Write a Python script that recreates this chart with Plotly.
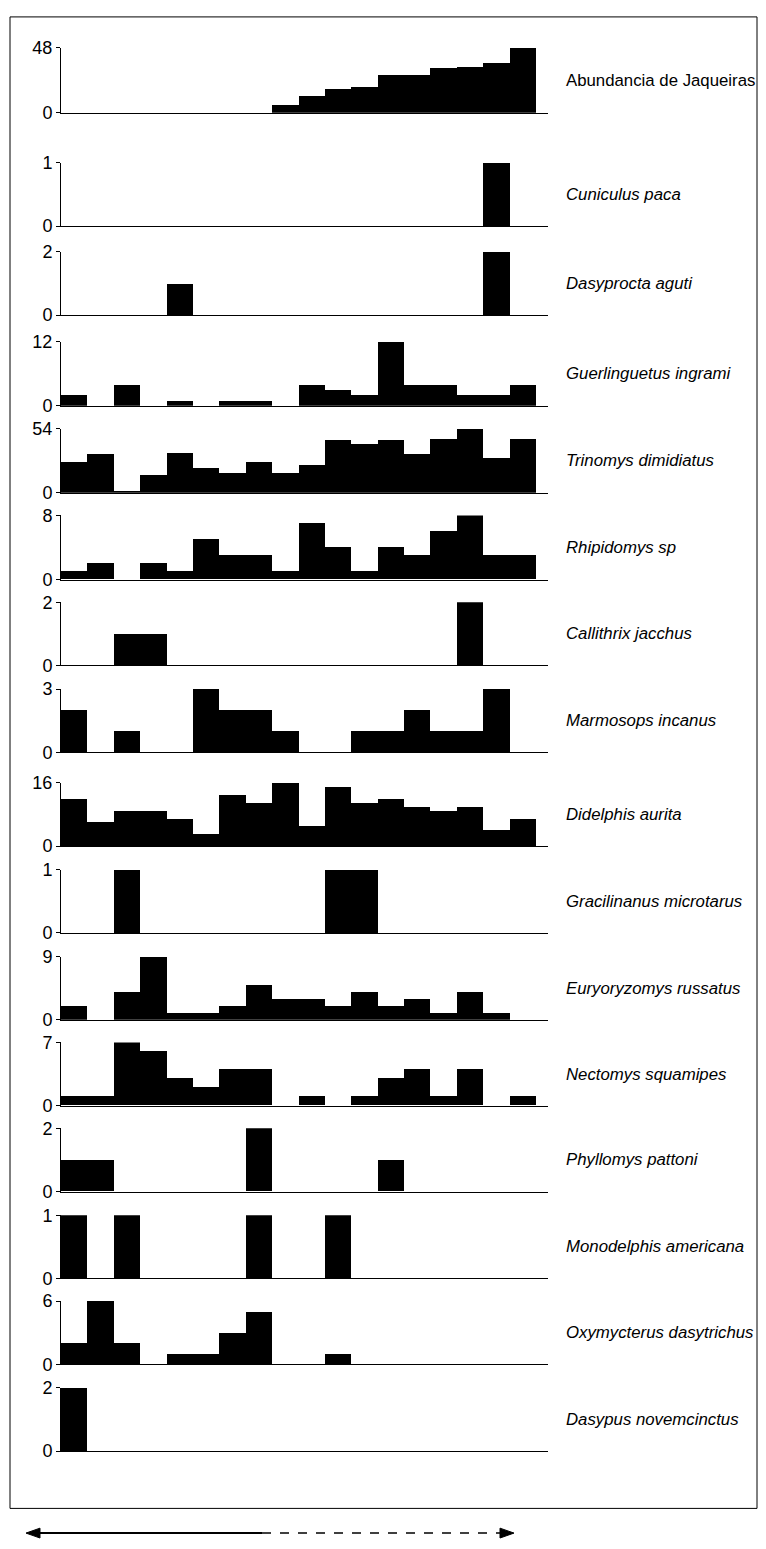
import plotly.graph_objects as go

# ---- data: counts per sampling unit (18 units, left to right) ----
abundancia_jaqueiras = [0, 0, 0, 0, 0, 0, 0, 0, 6, 13, 18, 19, 28, 28, 33, 34, 37, 48]
cuniculus_paca = [0, 0, 0, 0, 0, 0, 0, 0, 0, 0, 0, 0, 0, 0, 0, 0, 1, 0]
dasyprocta_aguti = [0, 0, 0, 0, 1, 0, 0, 0, 0, 0, 0, 0, 0, 0, 0, 0, 2, 0]
guerlinguetus_ingrami = [2, 0, 4, 0, 1, 0, 1, 1, 0, 4, 3, 2, 12, 4, 4, 2, 2, 4]
trinomys_dimidiatus = [26, 33, 2, 15, 34, 21, 17, 26, 17, 24, 45, 41, 45, 33, 46, 54, 30, 46]
rhipidomys_sp = [1, 2, 0, 2, 1, 5, 3, 3, 1, 7, 4, 1, 4, 3, 6, 8, 3, 3]
callithrix_jacchus = [0, 0, 1, 1, 0, 0, 0, 0, 0, 0, 0, 0, 0, 0, 0, 2, 0, 0]
marmosops_incanus = [2, 0, 1, 0, 0, 3, 2, 2, 1, 0, 0, 1, 1, 2, 1, 1, 3, 0]
didelphis_aurita = [12, 6, 9, 9, 7, 3, 13, 11, 16, 5, 15, 11, 12, 10, 9, 10, 4, 7]
gracilinanus_microtarsus = [0, 0, 1, 0, 0, 0, 0, 0, 0, 0, 1, 1, 0, 0, 0, 0, 0, 0]
euryoryzomys_russatus = [2, 0, 4, 9, 1, 1, 2, 5, 3, 3, 2, 4, 2, 3, 1, 4, 1, 0]
nectomys_squamipes = [1, 1, 7, 6, 3, 2, 4, 4, 0, 1, 0, 1, 3, 4, 1, 4, 0, 1]
phyllomys_pattoni = [1, 1, 0, 0, 0, 0, 0, 2, 0, 0, 0, 0, 1, 0, 0, 0, 0, 0]
monodelphis_americana = [1, 0, 1, 0, 0, 0, 0, 1, 0, 0, 1, 0, 0, 0, 0, 0, 0, 0]
oxymycterus_dasytrichus = [2, 6, 2, 0, 1, 1, 3, 5, 0, 0, 1, 0, 0, 0, 0, 0, 0, 0]
dasypus_novemcinctus = [2, 0, 0, 0, 0, 0, 0, 0, 0, 0, 0, 0, 0, 0, 0, 0, 0, 0]

panel_names = [
    "Abundancia de Jaqueiras", "Cuniculus paca", "Dasyprocta aguti",
    "Guerlinguetus ingrami", "Trinomys dimidiatus", "Rhipidomys sp",
    "Callithrix jacchus", "Marmosops incanus", "Didelphis aurita",
    "Gracilinanus microtarus", "Euryoryzomys russatus", "Nectomys squamipes",
    "Phyllomys pattoni", "Monodelphis americana", "Oxymycterus dasytrichus",
    "Dasypus novemcinctus",
]
panel_series = [
    abundancia_jaqueiras, cuniculus_paca, dasyprocta_aguti, guerlinguetus_ingrami,
    trinomys_dimidiatus, rhipidomys_sp, callithrix_jacchus, marmosops_incanus,
    didelphis_aurita, gracilinanus_microtarsus, euryoryzomys_russatus,
    nectomys_squamipes, phyllomys_pattoni, monodelphis_americana,
    oxymycterus_dasytrichus, dasypus_novemcinctus,
]
axis_max = [48, 1, 2, 12, 54, 8, 2, 3, 16, 1, 9, 7, 2, 1, 6, 2]

# ---- layout (pixels) ----
W, H = 766, 1549
panel_top = [38, 155, 245, 336, 424, 512, 600, 688, 783, 871, 959, 1046, 1133, 1221, 1308, 1396]
panel_base = [104, 219, 309, 401, 489, 577, 664, 752, 847, 935, 1023, 1110, 1197, 1285, 1372, 1460]
x_left, x_right = 61, 548
n_units = len(abundancia_jaqueiras)
x_span = n_units * (x_right - x_left) / (536 - x_left)

FONT = "Liberation Sans"

fig = go.Figure()
annotations = []
layout_axes = {}
for i, (name, series, ymax) in enumerate(zip(panel_names, panel_series, axis_max)):
    k = "" if i == 0 else str(i + 1)
    fig.add_trace(go.Bar(
        x=[j + 0.5 for j in range(n_units)], y=series, width=1.0,
        marker=dict(color="black", line=dict(width=0)),
        xaxis="x" + k, yaxis="y" + k, showlegend=False, hoverinfo="y",
    ))
    layout_axes["xaxis" + k] = dict(
        domain=[x_left / W, x_right / W], range=[0, x_span], anchor="y" + k,
        showline=True, linecolor="black", linewidth=1, ticks="",
        showticklabels=False, showgrid=False, zeroline=False, fixedrange=True,
    )
    layout_axes["yaxis" + k] = dict(
        domain=[1 - panel_base[i] / H, 1 - panel_top[i] / H], range=[0, ymax],
        anchor="x" + k, tickvals=[0, ymax], ticktext=[str(0), str(ymax)],
        ticks="outside", ticklen=4, tickcolor="black", tickwidth=1,
        showline=True, linecolor="black", linewidth=1, showgrid=False,
        zeroline=False, tickfont=dict(family=FONT, size=18, color="black"),
        fixedrange=True,
    )
    label = name if i == 0 else "<i>%s</i>" % name
    annotations.append(dict(
        text=label, xref="paper", yref="paper",
        x=564 / W, y=1 - (panel_top[i] + panel_base[i]) / 2 / H,
        xanchor="left", yanchor="middle", showarrow=False,
        font=dict(family=FONT, size=16.8, color="black"),
    ))

def px(x):
    return x / W

def py(y):
    return 1 - y / H

shapes = [
    # outer frame
    dict(type="rect", xref="paper", yref="paper", x0=px(10), x1=px(757),
         y0=py(1518), y1=py(7), line=dict(color="black", width=1)),
    # gradient arrow below the panels: solid then dashed
    dict(type="line", xref="paper", yref="paper", x0=px(36), x1=px(262),
         y0=py(1543), y1=py(1543), line=dict(color="black", width=2)),
    dict(type="line", xref="paper", yref="paper", x0=px(262), x1=px(505),
         y0=py(1543), y1=py(1543), line=dict(color="black", width=1.5, dash="dash")),
    dict(type="path", xref="paper", yref="paper",
         path="M %f %f L %f %f L %f %f Z" % (px(26), py(1543), px(40), py(1538), px(40), py(1548)),
         fillcolor="black", line=dict(color="black", width=1)),
    dict(type="path", xref="paper", yref="paper",
         path="M %f %f L %f %f L %f %f Z" % (px(514), py(1543), px(500), py(1538), px(500), py(1548)),
         fillcolor="black", line=dict(color="black", width=1)),
]

fig.update_layout(
    width=W, height=H, margin=dict(l=0, r=0, t=0, b=0),
    paper_bgcolor="white", plot_bgcolor="white", bargap=0,
    annotations=annotations, shapes=shapes, showlegend=False,
    **layout_axes,
)
fig.write_html("out.html")
